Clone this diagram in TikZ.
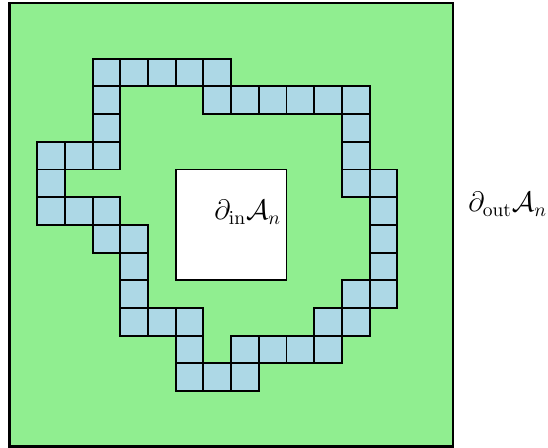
\documentclass[tikz,border=0pt]{standalone}
\usepackage{amsmath}
\definecolor{fieldgreen}{RGB}{144,238,144}
\definecolor{cellblue}{RGB}{173,216,230}
\begin{document}
\begin{tikzpicture}[x=0.5cm,y=0.5cm,
  cellbox/.style={fill=cellblue,draw=black,line width=1pt},
  innerbox/.style={fill=white,draw=black,line width=1pt},
  lbl/.style={inner sep=0pt,font=\fontsize{14.9}{18}\selectfont}]
\useasboundingbox (-0.343,-0.05) rectangle (19.44,16.12);
\fill[fieldgreen] (0,0) rectangle (16,16);
\draw[line width=1.2pt] (0,0) rectangle (16,16);
% cells: column c, row r counted from the top
\foreach \c/\r in {3/2,4/2,5/2,6/2,7/2,
  3/3,7/3,8/3,9/3,10/3,11/3,12/3,
  3/4,12/4,
  1/5,2/5,3/5,12/5,
  1/6,12/6,13/6,
  1/7,2/7,3/7,13/7,
  3/8,4/8,13/8,
  4/9,13/9,
  4/10,12/10,13/10,
  4/11,5/11,6/11,11/11,12/11,
  6/12,8/12,9/12,10/12,11/12,
  6/13,7/13,8/13}
  \draw[cellbox] (\c,15-\r) rectangle (\c+1,16-\r);
\draw[innerbox] (6,6) rectangle (10,10);
\node[lbl,anchor=base east] (din) at (9.82,8.18) {$\partial_{\mathrm{in}}\mathcal{A}_n$};
\node[lbl,anchor=base west] (dout) at (16.55,8.47) {$\partial_{\mathrm{out}}\mathcal{A}_n$};
\end{tikzpicture}
\end{document}
